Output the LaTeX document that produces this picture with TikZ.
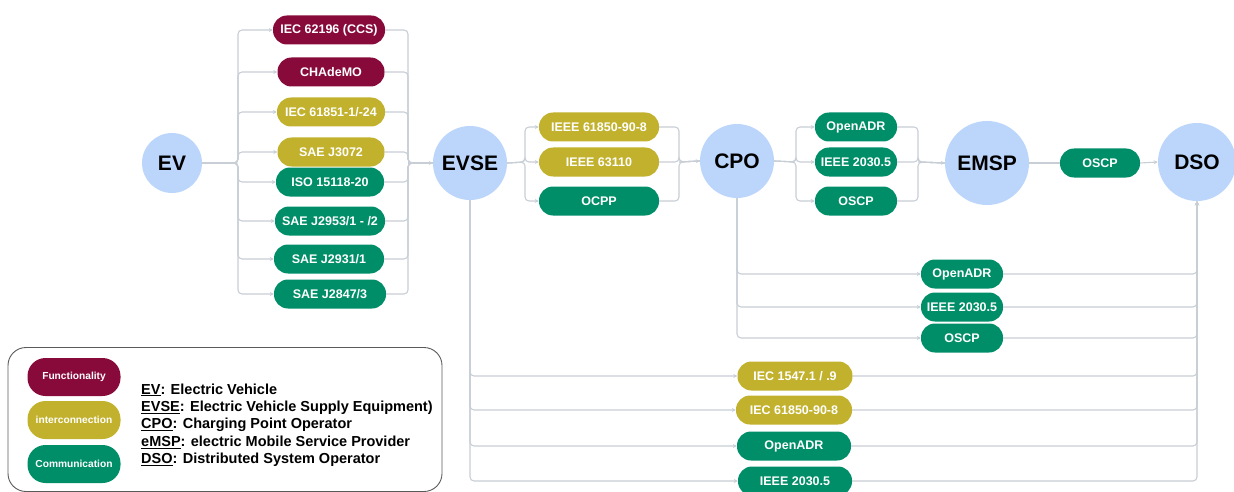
\documentclass[tikz,border=0pt]{standalone}
\usepackage{fontspec}
\setmainfont{Liberation Sans}
\usetikzlibrary{arrows.meta}
\definecolor{funcol}{HTML}{870A3B}
\definecolor{intcol}{HTML}{C2B12C}
\definecolor{comcol}{HTML}{008E68}
\definecolor{actor}{HTML}{BCD6FB}
\definecolor{wire}{HTML}{C8CED6}
\definecolor{frame}{HTML}{5A5A5A}
\tikzset{
  actornode/.style={circle, fill=actor, inner sep=0pt, font=\bfseries\fontsize{21}{23}\selectfont},
  pill/.style={rectangle, rounded corners=14pt, minimum height=29pt, inner sep=0pt,
    text=white, font=\bfseries\fontsize{12.5}{14}\selectfont},
  func/.style={pill, fill=funcol},
  inter/.style={pill, fill=intcol},
  comm/.style={pill, fill=comcol},
  link/.style={draw=wire, line width=1.1pt, rounded corners=4pt},
  tip/.style={-{Stealth[length=4pt,width=4pt]}},
  legpill/.style={rectangle, rounded corners=18pt, minimum height=38pt, minimum width=93pt,
    inner sep=0pt, text=white, font=\bfseries\fontsize{10.2}{11}\selectfont},
  legtext/.style={anchor=west, inner sep=0pt, font=\bfseries\fontsize{14.5}{16}\selectfont}
}
\begin{document}
\begin{tikzpicture}[x=1pt,y=-1pt]
\useasboundingbox (0,0) rectangle (1234,492);

% actors
\node[actornode, minimum size=60pt] (EV) at (172,163) {EV};
\node[actornode, minimum size=74pt] (EVSE) at (470,163) {EVSE};
\node[actornode, minimum size=74pt] (CPO) at (737,161) {CPO};
\node[actornode, minimum size=84pt] (EMSP) at (987,163) {EMSP};
\node[actornode, minimum size=78pt] (DSO) at (1197,162) {DSO};

% EV -> EVSE standards
\node[func,  minimum width=112pt] (s1) at (329,30)  {IEC 62196 (CCS)};
\node[func,  minimum width=107pt] (s2) at (331,72)  {CHAdeMO};
\node[inter, minimum width=108pt] (s3) at (331,112) {IEC 61851-1/-24};
\node[inter, minimum width=107pt] (s4) at (331,152) {SAE J3072};
\node[comm,  minimum width=108pt] (s5) at (330,182) {ISO 15118-20};
\node[comm,  minimum width=110pt] (s6) at (330,221) {SAE J2953/1 - /2};
\node[comm,  minimum width=110pt] (s7) at (329,259) {SAE J2931/1};
\node[comm,  minimum width=112pt] (s8) at (330,294) {SAE J2847/3};

\coordinate (evL) at (238,163);
\coordinate (evR) at (408,163);
\foreach \s in {s1,s2,s3,s4,s5,s6,s7,s8}{
  \draw[link,tip] (EV.east) -- (evL) |- (\s.west);
  \draw[link] (\s.east) -| (evR) -- (EVSE.west);
}
\draw[link,tip] (evR) -- (EVSE.west);

% EVSE -> CPO standards
\node[inter, minimum width=120pt] (c1) at (599,127) {IEEE 61850-90-8};
\node[inter, minimum width=120pt] (c2) at (599,162) {IEEE 63110};
\node[comm,  minimum width=120pt] (c3) at (599,201) {OCPP};
\coordinate (cvL) at (525,162);
\coordinate (cvR) at (679,162);
\foreach \s in {c1,c2,c3}{
  \draw[link,tip] (EVSE.east) -- (cvL) |- (\s.west);
  \draw[link] (\s.east) -| (cvR) -- (CPO.west);
}
\draw[link,tip] (cvR) -- (CPO.west);

% CPO -> EMSP standards
\node[comm, minimum width=82pt] (e1) at (856,127) {OpenADR};
\node[comm, minimum width=82pt] (e2) at (856,162) {IEEE 2030.5};
\node[comm, minimum width=82pt] (e3) at (856,201) {OSCP};
\coordinate (cpL) at (796,162);
\coordinate (cpR) at (918,162);
\foreach \s in {e1,e2,e3}{
  \draw[link,tip] (CPO.east) -- (cpL) |- (\s.west);
  \draw[link] (\s.east) -| (cpR) -- (EMSP.west);
}
\draw[link,tip] (cpR) -- (EMSP.west);

% EMSP -> DSO
\node[comm, minimum width=80pt] (m1) at (1100,163) {OSCP};
\draw[link] (EMSP.east) -- (m1.west);
\draw[link,tip] (m1.east) -- (DSO.west);

% CPO -> DSO standards
\node[comm, minimum width=82pt] (d1) at (962,274) {OpenADR};
\node[comm, minimum width=82pt] (d2) at (962,307) {IEEE 2030.5};
\node[comm, minimum width=82pt] (d3) at (962,338) {OSCP};
\foreach \s in {d1,d2,d3}{
  \draw[link,tip] (CPO.south) |- (\s.west);
  \draw[link,tip] (\s.east) -| (DSO.south);
}

% EVSE -> DSO standards
\node[inter, minimum width=115pt] (g1) at (795,376) {IEC 1547.1 / .9};
\node[inter, minimum width=116pt] (g2) at (794,410) {IEC 61850-90-8};
\node[comm,  minimum width=114pt] (g3) at (794,446) {OpenADR};
\node[comm,  minimum width=114pt] (g4) at (795,481) {IEEE 2030.5};
\foreach \s in {g1,g2,g3,g4}{
  \draw[link,tip] (EVSE.south) |- (\s.west);
  \draw[link,tip] (\s.east) -| (DSO.south);
}

% legend
\node[draw=frame, line width=0.9pt, rounded corners=18pt, minimum width=434pt,
      minimum height=144pt, inner sep=0pt] (legend) at (225,419.5) {};
\node[legpill, fill=funcol] (lf) at (74,377) {Functionality};
\node[legpill, fill=intcol] (li) at (74,420) {interconnection};
\node[legpill, fill=comcol] (lc) at (74,464) {Communication};
\node[legtext] (t1) at (141,390) {\underline{EV}: Electric Vehicle};
\node[legtext] (t2) at (141,408) {\underline{EVSE}: Electric Vehicle Supply Equipment)};
\node[legtext] (t3) at (141,425) {\underline{CPO}: Charging Point Operator};
\node[legtext] (t4) at (141,442) {\underline{eMSP}: electric Mobile Service Provider};
\node[legtext] (t5) at (141,460) {\underline{DSO}: Distributed System Operator};
\end{tikzpicture}
\end{document}
